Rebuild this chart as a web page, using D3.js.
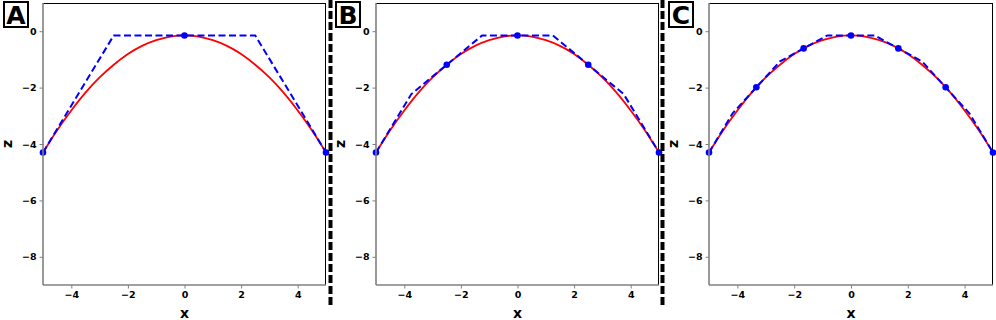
<!DOCTYPE html>
<html><head><meta charset="utf-8">
<script src="https://cdn.jsdelivr.net/npm/d3@7"></script>
<style>body{margin:0;background:#fff}svg{display:block}text{font-family:"DejaVu Sans",sans-serif}</style>
</head><body><svg id="c" width="996" height="320"></svg>
<script>
// Red curve (true profile)
const curveX = [-5,-4.5,-4,-3.5,-3,-2.5,-2,-1.5,-1,-0.5,0,0.5,1,1.5,2,2.5,3,3.5,4,4.5,5];
const curveZ = [-4.30,-3.51,-2.81,-2.18,-1.64,-1.19,-0.81,-0.52,-0.32,-0.19,-0.15,-0.19,-0.32,-0.52,-0.81,-1.19,-1.64,-2.18,-2.81,-3.51,-4.30];

// Panel A
const aPtsX = [-5, 0, 5];
const aPtsZ = [-4.30, -0.15, -4.30];
const aLineX = [-5, -2.5, 2.5, 5];
const aLineZ = [-4.30, -0.15, -0.15, -4.30];
// Panel B
const bPtsX = [-5, -2.5, 0, 2.5, 5];
const bPtsZ = [-4.30, -1.19, -0.15, -1.19, -4.30];
const bLineX = [-5, -3.75, -2.5, -1.25, 1.25, 2.5, 3.75, 5];
const bLineZ = [-4.30, -2.23, -1.19, -0.15, -0.15, -1.19, -2.23, -4.30];
// Panel C
const cPtsX = [-5, -3.333, -1.667, 0, 1.667, 3.333, 5];
const cPtsZ = [-4.30, -1.99, -0.61, -0.15, -0.61, -1.99, -4.30];
const cLineX = [-5, -4.167, -2.5, -0.833, 0.833, 2.5, 4.167, 5];
const cLineZ = [-4.30, -2.91, -1.07, -0.15, -0.15, -1.07, -2.91, -4.30];

const xTicks = [-4, -2, 0, 2, 4];
const zTicks = [0, -2, -4, -6, -8];
const panelLabels = ["A", "B", "C"];
const xLabel = "x", zLabel = "z";

const panels = [
  {label: panelLabels[0], left: 43, right: 326, lab: 3, zl: 8, px: aPtsX, pz: aPtsZ, lx: aLineX, lz: aLineZ},
  {label: panelLabels[1], left: 376, right: 659, lab: 335, zl: 341, px: bPtsX, pz: bPtsZ, lx: bLineX, lz: bLineZ},
  {label: panelLabels[2], left: 709, right: 993, lab: 668, zl: 674, px: cPtsX, pz: cPtsZ, lx: cLineX, lz: cLineZ}
];
const plotTop = 3, plotBottom = 285;
const svg = d3.select("#c");

panels.forEach(p => {
  const x = d3.scaleLinear().domain([-5, 5]).range([p.left, p.right]);
  const y = d3.scaleLinear().domain([-9, 1]).range([plotBottom, plotTop]);
  const g = svg.append("g");
  // frame top/right
  g.append("line").attr("x1", p.left).attr("x2", p.right).attr("y1", plotTop + 0.5).attr("y2", plotTop + 0.5).attr("stroke", "#000").attr("stroke-width", 1);
  g.append("line").attr("x1", p.right - 0.5).attr("x2", p.right - 0.5).attr("y1", plotTop).attr("y2", plotBottom).attr("stroke", "#000").attr("stroke-width", 1);

  const clipId = "clip" + p.label;
  svg.append("clipPath").attr("id", clipId).append("rect")
    .attr("x", p.left - 4).attr("y", plotTop).attr("width", p.right - p.left + 8).attr("height", plotBottom - plotTop);
  const pg = g.append("g").attr("clip-path", `url(#${clipId})`);

  const line = d3.line().x(d => x(d[0])).y(d => y(d[1]));
  pg.append("path").datum(curveX.map((v, i) => [v, curveZ[i]]))
    .attr("d", d3.line().x(d => x(d[0])).y(d => y(d[1])).curve(d3.curveNatural))
    .attr("fill", "none").attr("stroke", "#ff0000").attr("stroke-width", 1.8);
  pg.append("path").datum(p.lx.map((v, i) => [v, p.lz[i]]))
    .attr("d", line).attr("fill", "none")
    .attr("stroke", "#0000ff").attr("stroke-width", 2).attr("stroke-dasharray", "7,3.5");
  pg.selectAll("circle").data(p.px.map((v, i) => [v, p.pz[i]])).join("circle")
    .attr("cx", d => x(d[0])).attr("cy", d => y(d[1])).attr("r", 3.3).attr("fill", "#0000ff");

  // axes
  const ax = g.append("g").attr("transform", `translate(0,${plotBottom})`)
    .call(d3.axisBottom(x).tickValues(xTicks).tickSize(3.5).tickPadding(3).tickFormat(d3.format("d")));
  const ay = g.append("g").attr("transform", `translate(${p.left},0)`)
    .call(d3.axisLeft(y).tickValues(zTicks).tickSize(3.5).tickPadding(3).tickFormat(d3.format("d")));
  [ax, ay].forEach(a => {
    a.select(".domain").attr("stroke", "#808080").attr("stroke-width", 1.6);
    a.selectAll(".tick line").attr("stroke", "#808080").attr("stroke-width", 1);
    a.selectAll(".tick text").attr("fill", "#000").attr("font-size", 9.5).attr("font-weight", "bold")
      .attr("font-family", "DejaVu Sans");
  });
  ax.select(".domain").attr("d", `M${p.left},0H${p.right}`);
  ay.select(".domain").attr("d", `M0,${plotTop}V${plotBottom}`);

  g.append("text").attr("x", (p.left + p.right) / 2).attr("y", 318).attr("text-anchor", "middle")
    .attr("font-size", 14).attr("font-weight", "bold").text(xLabel);
  g.append("text").attr("transform", `translate(${p.zl + 4},${(plotTop + plotBottom) / 2}) rotate(-90)`)
    .attr("text-anchor", "middle").attr("font-size", 14).attr("font-weight", "bold").text(zLabel);

  // panel label
  g.append("rect").attr("x", p.lab + 1).attr("y", 2).attr("width", 24).attr("height", 25)
    .attr("fill", "#fff").attr("stroke", "#000").attr("stroke-width", 2);
  g.append("text").attr("x", p.lab + 13).attr("y", 23.5).attr("text-anchor", "middle")
    .attr("font-size", 25).attr("font-weight", "bold").text(p.label);
});

// separators
[330.5, 662.5].forEach(sx => {
  svg.append("line").attr("x1", sx).attr("x2", sx).attr("y1", 0).attr("y2", 305)
    .attr("stroke", "#000").attr("stroke-width", 4).attr("stroke-dasharray", "8,3");
});
</script></body></html>
